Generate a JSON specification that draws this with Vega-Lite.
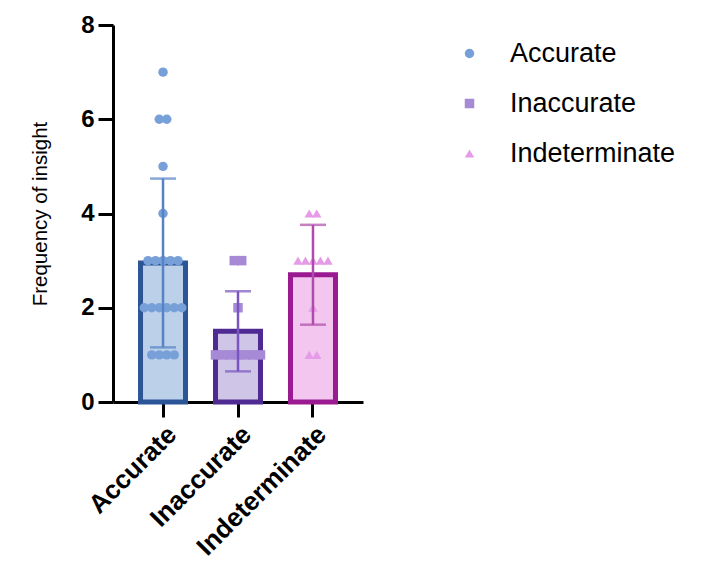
{
  "$schema": "https://vega.github.io/schema/vega-lite/v6.json",
  "width": 250,
  "height": 377,
  "autosize": "none",
  "padding": {"left": 113, "top": 25, "right": 338, "bottom": 166},
  "background": "white",
  "config": {
    "view": {"stroke": null},
    "font": "Liberation Sans",
    "axisY": {
      "titleFontSize": 20.5,
      "titleFontWeight": "normal",
      "titleColor": "black",
      "titlePadding": 30,
      "grid": false,
      "labelFontSize": 24,
      "labelFontWeight": "bold",
      "labelColor": "black",
      "labelPadding": 4,
      "domainColor": "black",
      "domainWidth": 3,
      "tickColor": "black",
      "tickWidth": 3,
      "tickSize": 15
    }
  },
  "data": {
    "values": [
      {"group": "Accurate", "value": 7},
      {"group": "Accurate", "value": 6},
      {"group": "Accurate", "value": 6},
      {"group": "Accurate", "value": 5},
      {"group": "Accurate", "value": 4},
      {"group": "Accurate", "value": 3},
      {"group": "Accurate", "value": 3},
      {"group": "Accurate", "value": 3},
      {"group": "Accurate", "value": 3},
      {"group": "Accurate", "value": 3},
      {"group": "Accurate", "value": 2},
      {"group": "Accurate", "value": 2},
      {"group": "Accurate", "value": 2},
      {"group": "Accurate", "value": 2},
      {"group": "Accurate", "value": 2},
      {"group": "Accurate", "value": 2},
      {"group": "Accurate", "value": 1},
      {"group": "Accurate", "value": 1},
      {"group": "Accurate", "value": 1},
      {"group": "Accurate", "value": 1},
      {"group": "Inaccurate", "value": 3},
      {"group": "Inaccurate", "value": 3},
      {"group": "Inaccurate", "value": 2},
      {"group": "Inaccurate", "value": 1},
      {"group": "Inaccurate", "value": 1},
      {"group": "Inaccurate", "value": 1},
      {"group": "Inaccurate", "value": 1},
      {"group": "Inaccurate", "value": 1},
      {"group": "Inaccurate", "value": 1},
      {"group": "Inaccurate", "value": 1},
      {"group": "Indeterminate", "value": 4},
      {"group": "Indeterminate", "value": 4},
      {"group": "Indeterminate", "value": 3},
      {"group": "Indeterminate", "value": 3},
      {"group": "Indeterminate", "value": 3},
      {"group": "Indeterminate", "value": 3},
      {"group": "Indeterminate", "value": 3},
      {"group": "Indeterminate", "value": 2},
      {"group": "Indeterminate", "value": 1},
      {"group": "Indeterminate", "value": 1}
    ]
  },
  "encoding": {
    "x": {
      "field": "group",
      "type": "nominal",
      "sort": ["Accurate", "Inaccurate", "Indeterminate"],
      "scale": {"paddingInner": 0.4, "paddingOuter": 0.367},
      "axis": {
        "title": null,
        "labelAngle": -45,
        "labelFontSize": 26,
        "labelFontWeight": "bold",
        "labelColor": "black",
        "labelPadding": 4,
        "domainColor": "black",
        "domainWidth": 3,
        "tickColor": "black",
        "tickWidth": 3,
        "tickSize": 15
      }
    }
  },
  "layer": [
    {
      "mark": {"type": "bar", "strokeWidth": 5, "width": {"band": 1}},
      "encoding": {
        "y": {
          "aggregate": "mean",
          "field": "value",
          "type": "quantitative",
          "title": "Frequency of insight",
          "scale": {"domain": [0, 8]},
          "axis": {"values": [0, 2, 4, 6, 8], "titleFontSize": 20.5, "titleFontWeight": "normal", "titleColor": "black", "titlePadding": 30}
        },
        "fill": {
          "condition": [
            {"test": "datum.group === 'Accurate'", "value": "#bdd0ea"},
            {"test": "datum.group === 'Inaccurate'", "value": "#cfc5e6"}
          ],
          "value": "#f3c6f0"
        },
        "stroke": {
          "condition": [
            {"test": "datum.group === 'Accurate'", "value": "#2b5597"},
            {"test": "datum.group === 'Inaccurate'", "value": "#4f2a93"}
          ],
          "value": "#9a1a92"
        }
      }
    },
    {
      "transform": [
        {"window": [{"op": "row_number", "as": "rn"}], "groupby": ["group", "value"]},
        {"joinaggregate": [{"op": "count", "as": "n"}], "groupby": ["group", "value"]},
        {"calculate": "datum.rn - (datum.n + 1) / 2", "as": "off"}
      ],
      "mark": {"type": "point", "filled": true, "opacity": 1, "size": 90},
      "encoding": {
        "y": {"field": "value", "type": "quantitative", "title": "Frequency of insight",
          "axis": {"values": [0, 2, 4, 6, 8], "titleFontSize": 20.5, "titleFontWeight": "normal", "titleColor": "black", "titlePadding": 30}},
        "xOffset": {"field": "off", "type": "quantitative", "scale": {"domain": [-3, 3]}},
        "color": {
          "field": "group",
          "type": "nominal",
          "scale": {"domain": ["Accurate", "Inaccurate", "Indeterminate"], "range": ["#78a0d8", "#a68ad6", "#e69be6"]},
          "legend": {
            "title": null,
            "orient": "none",
            "legendX": 343,
            "legendY": 15,
            "labelFontSize": 27,
            "labelColor": "black",
            "labelOffset": 27,
            "labelLimit": 400,
            "symbolSize": 90,
            "rowPadding": 22
          }
        },
        "shape": {
          "field": "group",
          "type": "nominal",
          "scale": {"domain": ["Accurate", "Inaccurate", "Indeterminate"], "range": ["circle", "square", "triangle-up"]}
        }
      }
    },
    {
      "transform": [{"filter": "datum.group === 'Accurate'"}],
      "mark": {"type": "errorbar", "extent": "stdev", "ticks": true, "size": 26, "thickness": 2.5, "color": "#5683c6"},
      "encoding": {"y": {"field": "value", "type": "quantitative", "title": "Frequency of insight",
        "axis": {"values": [0, 2, 4, 6, 8], "titleFontSize": 20.5, "titleFontWeight": "normal", "titleColor": "black", "titlePadding": 30}}}
    },
    {
      "transform": [{"filter": "datum.group === 'Inaccurate'"}],
      "mark": {"type": "errorbar", "extent": "stdev", "ticks": true, "size": 26, "thickness": 2.5, "color": "#7a55c0"},
      "encoding": {"y": {"field": "value", "type": "quantitative", "title": "Frequency of insight",
        "axis": {"values": [0, 2, 4, 6, 8], "titleFontSize": 20.5, "titleFontWeight": "normal", "titleColor": "black", "titlePadding": 30}}}
    },
    {
      "transform": [{"filter": "datum.group === 'Indeterminate'"}],
      "mark": {"type": "errorbar", "extent": "stdev", "ticks": true, "size": 26, "thickness": 2.5, "color": "#b14aad"},
      "encoding": {"y": {"field": "value", "type": "quantitative", "title": "Frequency of insight",
        "axis": {"values": [0, 2, 4, 6, 8], "titleFontSize": 20.5, "titleFontWeight": "normal", "titleColor": "black", "titlePadding": 30}}}
    }
  ],
  "resolve": {"scale": {"xOffset": "independent"}}
}
